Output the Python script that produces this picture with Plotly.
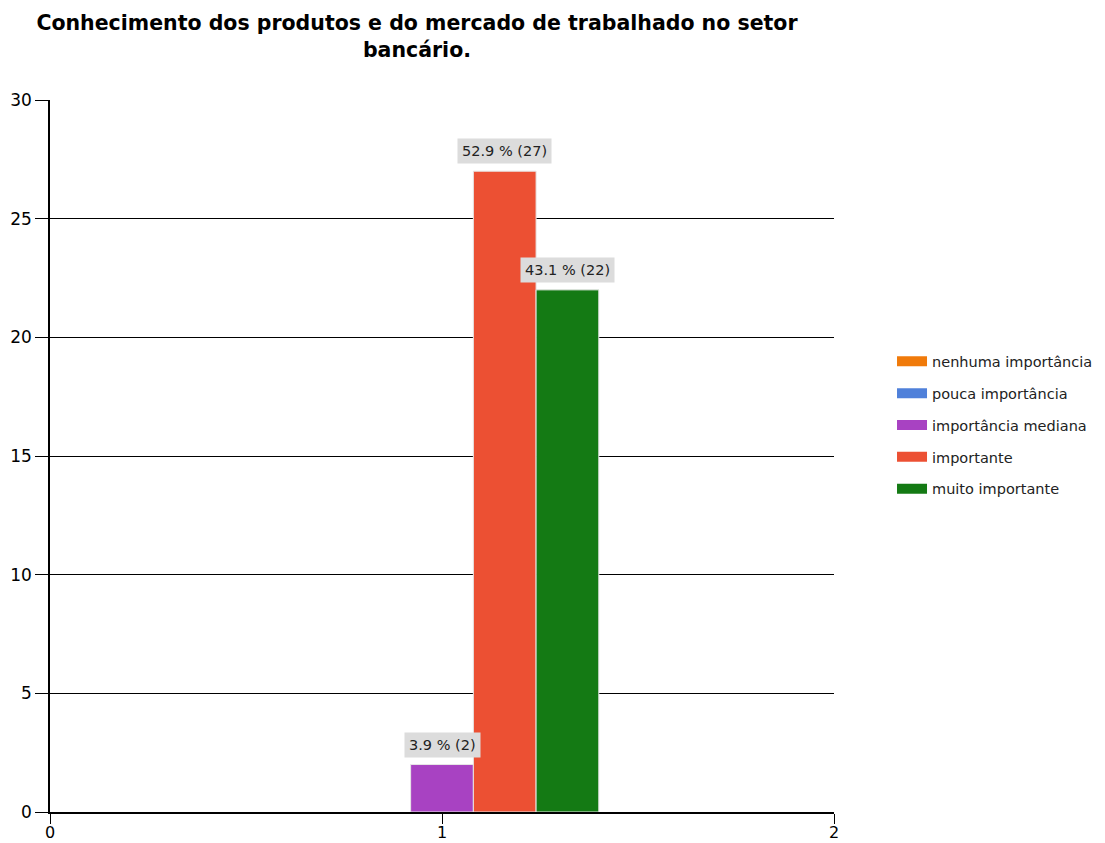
import plotly.graph_objects as go

categories = [1]
series_names = ["nenhuma importância", "pouca importância", "importância mediana",
                "importante", "muito importante"]
series_values = [0, 0, 2, 27, 22]
series_pct = [0.0, 0.0, 3.9, 52.9, 43.1]
series_colors = ["#F07A0A", "#4F80DA", "#A842C2", "#EC5033", "#147A14"]
x_ticks = [0, 1, 2]
y_ticks = [0, 5, 10, 15, 20, 25, 30]

fig = go.Figure()
n = len(series_names)
group_width = 0.8
bw = group_width / n
for i, (name, v, c) in enumerate(zip(series_names, series_values, series_colors)):
    fig.add_trace(go.Bar(
        x=categories, y=[v], name=name, width=bw,
        offset=-group_width / 2 + i * bw,
        marker=dict(color=c, line=dict(color="#e6e6e6", width=1 if v > 0 else 0)),
        legendgroup=name, showlegend=False,
    ))
    # legend entry drawn as a wide rectangle swatch
    fig.add_trace(go.Scatter(
        x=[None], y=[None], mode="lines", name=name, legendgroup=name,
        line=dict(color=c, width=12), hoverinfo="skip",
    ))
    if v > 0:
        fig.add_annotation(
            x=categories[0] - group_width / 2 + (i + 0.5) * bw, y=v,
            text=f"{series_pct[i]} % ({v})", showarrow=False,
            yanchor="bottom", yshift=7, bgcolor="#dcdcdc",
            font=dict(family="DejaVu Sans, Arial", size=14.5, color="#222"),
            borderpad=4,
        )

fig.update_layout(
    width=1097, height=835,
    paper_bgcolor="white", plot_bgcolor="white",
    margin=dict(l=42, r=271, t=92, b=31, autoexpand=False),
    title=dict(text="<b>Conhecimento dos produtos e do mercado de trabalhado no setor<br>bancário.</b>",
               x=0.3728, xanchor="center", xref="container",
               y=0.9735, yanchor="top", yref="container", automargin=False,
               font=dict(family="DejaVu Sans, Arial", size=20.5, color="black")),
    legend=dict(x=1.074, xanchor="left", y=0.543, yanchor="middle",
                tracegroupgap=10,
                font=dict(family="DejaVu Sans, Arial", size=14.5, color="#222")),
    showlegend=True,
)
fig.update_xaxes(range=[0, 2], tickvals=x_ticks, showgrid=False, showline=True,
                 linecolor="black", linewidth=1.5, ticks="outside", ticklen=10,
                 ticklabelstandoff=-5,
                 tickcolor="black", zeroline=False, automargin=False,
                 tickfont=dict(family="DejaVu Sans, Arial", size=16, color="black"))
fig.update_yaxes(range=[0, 30], tickvals=y_ticks, showgrid=True, gridcolor="black",
                 gridwidth=1.2, showline=True, linecolor="black", linewidth=1.5,
                 ticks="outside", ticklen=13, tickcolor="black", zeroline=False,
                 automargin=False,
                 tickfont=dict(family="DejaVu Sans, Arial", size=17, color="black"))

fig.write_html("out.html")
